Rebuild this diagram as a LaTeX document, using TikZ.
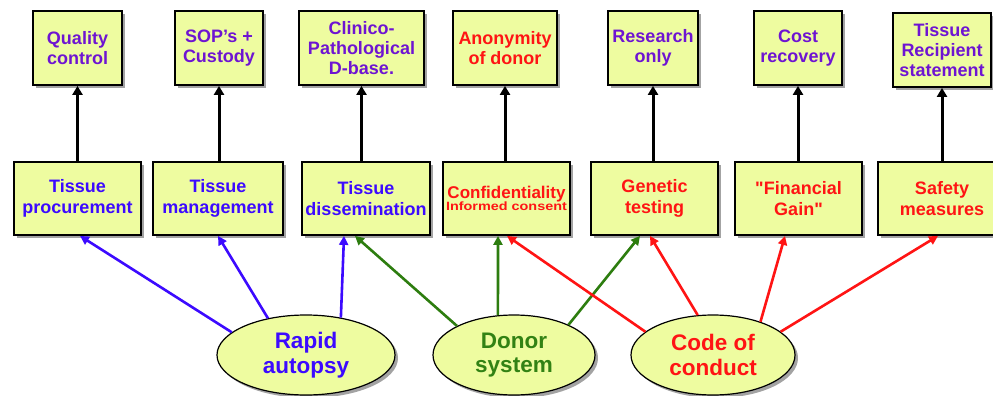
\documentclass[tikz,border=0pt]{standalone}
\usepackage{fontspec}
\setmainfont{Liberation Sans}[Ligatures=TeXOff]
\usetikzlibrary{shapes.geometric,arrows.meta,shadows,calc}
\definecolor{boxfill}{RGB}{238,252,160}
\definecolor{tblue}{RGB}{60,10,255}
\definecolor{tpurple}{RGB}{110,20,210}
\definecolor{tred}{RGB}{255,20,20}
\definecolor{tgreen}{RGB}{50,130,20}
\definecolor{agreen}{RGB}{45,125,15}
\tikzset{
  shad/.style={drop shadow={shadow xshift=3pt,shadow yshift=-3pt,fill=black!45,opacity=0.8}},
  topbox/.style={draw=black,line width=1.8pt,fill=boxfill,shad,minimum height=74pt,inner sep=0pt,
    align=center,font=\fontsize{18}{20}\selectfont\bfseries,text=tpurple},
  midbox/.style={draw=black,line width=1.8pt,fill=boxfill,shad,minimum height=73pt,minimum width=127pt,inner sep=0pt,
    align=center,font=\fontsize{18}{20.5}\selectfont\bfseries,text=tblue},
  oval/.style={ellipse,draw=black,line width=1.2pt,fill=boxfill,shad,inner sep=0pt,
    align=center,font=\fontsize{22.5}{24.5}\selectfont\bfseries},
  uparrow/.style={draw=black,line width=3pt,-{Triangle[length=9pt,width=10pt]}},
  carrow/.style={line width=2.6pt,-{Triangle[length=9pt,width=9pt]}},
}
\begin{document}
\begin{tikzpicture}[x=1pt,y=1pt]
\useasboundingbox (0,0) rectangle (993,-396);
\clip (0,0) rectangle (993,-396);
% top boxes
\node[topbox,minimum width=89pt] (t1) at (77.5,-48) {Quality\\control};
\node[topbox,minimum width=88pt] (t2) at (219,-48) {SOP’s +\\Custody};
\node[topbox,minimum width=125pt] (t3) at (361.5,-48) {Clinico-\\Pathological\\D-base.};
\node[topbox,minimum width=104pt,text=tred] (t4) at (505,-48) {Anonymity\\of donor};
\node[topbox,minimum width=90pt] (t5) at (653,-48) {Research\\only};
\node[topbox,minimum width=88pt] (t6) at (798,-48) {Cost\\recovery};
\node[topbox,minimum width=98pt] (t7) at (942,-50) {Tissue\\Recipient\\statement};
% middle boxes
\node[midbox] (m1) at (77.5,-198.5) {Tissue\\procurement};
\node[midbox,minimum width=130pt] (m2) at (218,-198.5) {Tissue\\management};
\node[midbox,minimum width=128pt] (m3) at (366,-198.5) {Tissue\\dissemination};
\node[midbox,text=tred,font=\bfseries] (m4) at (506.5,-198.5) {{\fontsize{17}{18}\selectfont Confidentiality}\\[-1pt]\scalebox{1.2}[1]{\fontsize{12}{13}\selectfont Informed consent}};
\node[midbox,text=tred] (m5) at (654.5,-198.5) {Genetic\\testing};
\node[midbox,text=tred] (m6) at (798.5,-198.5) {"Financial\\Gain"};
\node[midbox,minimum width=128pt,text=tred] (m7) at (942,-198.5) {Safety\\measures};
% ellipses
\node[oval,minimum width=178pt,minimum height=80pt,text=tblue] (ra) at (306,-355) {Rapid\\autopsy};
\node[oval,minimum width=162pt,minimum height=80pt,text=tgreen] (ds) at (514,-355) {Donor\\system};
\node[oval,minimum width=164pt,minimum height=80pt,text=tred] (cc) at (713,-355) {Code of\\conduct};
% black arrows
\foreach \i in {1,...,7} {
  \draw[uparrow] (t\i.south |- m\i.north) -- (t\i.south);
}
% blue arrows
\draw[carrow,tblue] (ra.163) -- ($(m1.south)+(2.5,0)$);
\draw[carrow,tblue] (ra.136) -- (m2.south);
\draw[carrow,tblue] (ra.47) -- ($(m3.south)+(-22,0)$);
% green arrows
\draw[carrow,agreen] (ds.153) -- ($(m3.south)+(-11,0)$);
\draw[carrow,agreen] (ds.112) -- ($(m4.south)+(-8.5,0)$);
\draw[carrow,agreen] (ds.29) -- ($(m5.south)+(-14.5,0)$);
% red arrows
\draw[carrow,tred] (cc.161) -- ($(m4.south)+(0.5,0)$);
\draw[carrow,tred] (cc.111) -- ($(m5.south)+(-4.5,0)$);
\draw[carrow,tred] (cc.35) -- ($(m6.south)+(-13.5,0)$);
\draw[carrow,tred] (cc.19) -- ($(m7.south)+(-4,0)$);
\end{tikzpicture}
\end{document}
